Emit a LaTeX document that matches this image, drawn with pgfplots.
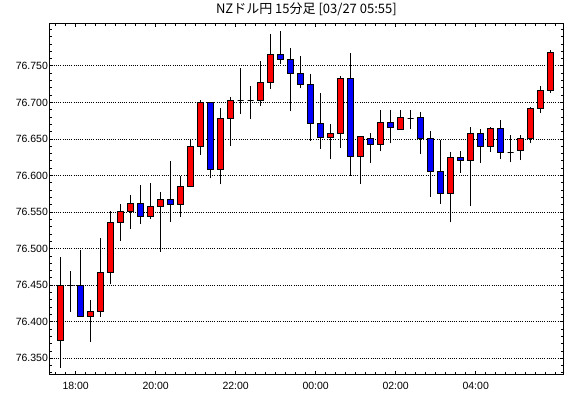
\documentclass[border=0pt]{standalone}
\usepackage{fontspec}
\setmainfont{Liberation Sans}
\newfontfamily\jp{Noto Sans CJK JP}
\usepackage{pgfplots}
\usepackage{pgfplotstable}
\pgfplotsset{compat=1.18}
\pgfplotstableread{
i o h l c
0 76.374 76.488 76.337 76.450
1 76.450 76.469 76.413 76.450
2 76.450 76.498 76.407 76.407
3 76.407 76.429 76.372 76.414
4 76.414 76.514 76.407 76.467
5 76.467 76.551 76.451 76.536
6 76.536 76.561 76.510 76.551
7 76.551 76.573 76.527 76.562
8 76.562 76.587 76.534 76.544
9 76.544 76.590 76.541 76.558
10 76.558 76.577 76.495 76.567
11 76.567 76.620 76.537 76.560
12 76.560 76.599 76.543 76.585
13 76.585 76.650 76.584 76.639
14 76.639 76.703 76.628 76.700
15 76.700 76.700 76.596 76.608
16 76.608 76.693 76.588 76.678
17 76.678 76.707 76.641 76.702
18 76.703 76.747 76.684 76.703
19 76.703 76.722 76.677 76.703
20 76.703 76.756 76.695 76.727
21 76.727 76.794 76.718 76.766
22 76.766 76.798 76.753 76.758
23 76.758 76.774 76.688 76.740
24 76.740 76.763 76.719 76.725
25 76.725 76.739 76.647 76.671
26 76.671 76.713 76.636 76.652
27 76.652 76.671 76.622 76.658
28 76.658 76.736 76.637 76.732
29 76.732 76.767 76.599 76.626
30 76.626 76.654 76.589 76.653
31 76.651 76.658 76.617 76.643
32 76.643 76.689 76.633 76.672
33 76.672 76.690 76.644 76.665
34 76.663 76.689 76.663 76.679
35 76.678 76.689 76.663 76.678
36 76.679 76.687 76.629 76.651
37 76.651 76.661 76.571 76.605
38 76.605 76.648 76.561 76.576
39 76.576 76.632 76.536 76.625
40 76.625 76.634 76.604 76.620
41 76.620 76.667 76.558 76.658
42 76.658 76.663 76.617 76.639
43 76.639 76.667 76.632 76.664
44 76.664 76.676 76.622 76.632
45 76.632 76.655 76.618 76.632
46 76.634 76.656 76.621 76.650
47 76.650 76.694 76.645 76.692
48 76.692 76.722 76.685 76.716
49 76.716 76.771 76.713 76.768
}\candles
\begin{document}
\begin{tikzpicture}
\path[use as bounding box] (0,0) rectangle (570pt,398pt);
\begin{axis}[
  at={(49.3pt,23.3pt)}, anchor=south west,
  scale only axis, width=514.2pt, height=351.4pt,
  xmin=-1.14, xmax=50.28,
  ymin=76.3275, ymax=76.8082,
  axis line style={black, line width=1pt},
  tick pos=both,
  tick align=inside,
  major tick length=4pt, minor tick length=2.5pt,
  every tick/.style={black, line width=0.8pt},
  xtick={1.5,9.5,17.5,25.5,33.5,41.5},
  xticklabels={18:00,20:00,22:00,00:00,02:00,04:00},
  minor xtick={-0.5,0.5,...,49.5},
  ytick={76.35,76.40,...,76.76},
  minor ytick={76.33,76.34,...,76.81},
  ymajorgrids,
  major grid style={black, line width=0.8pt, dash pattern=on 1pt off 1.2pt},
  yticklabel style={/pgf/number format/fixed, /pgf/number format/fixed zerofill, /pgf/number format/precision=3, /pgf/number format/1000 sep={}, /pgf/number format/assume math mode=true},
  yticklabel style={inner sep=0pt, xshift=-1.2pt},
  xticklabel style={inner sep=0pt, yshift=-7.3pt},
  ticklabel style={font=\fontsize{10.5}{12}\selectfont},
  title={\jp NZドル円 15分足 [03/27 05:55]},
  title style={at={(0.5,1)}, anchor=south, inner sep=0pt, yshift=1pt, font=\fontsize{13}{15}\selectfont},
]
\pgfplotsinvokeforeach{0,...,49}{%
  \pgfplotstablegetelem{#1}{o}\of\candles \let\vo\pgfplotsretval
  \pgfplotstablegetelem{#1}{h}\of\candles \let\vh\pgfplotsretval
  \pgfplotstablegetelem{#1}{l}\of\candles \let\vl\pgfplotsretval
  \pgfplotstablegetelem{#1}{c}\of\candles \let\vc\pgfplotsretval
  \pgfmathtruncatemacro\up{\vc>=\vo ? 1 : 0}%
  \ifnum\up=1 \def\fc{red}\else\def\fc{blue}\fi
  \pgfmathsetmacro\xa{#1-0.3}%
  \pgfmathsetmacro\xb{#1+0.3}%
  \edef\temp{%
    \noexpand\addplot[black, line width=1pt, forget plot] coordinates {(#1,\vl) (#1,\vh)};
    \noexpand\addplot[draw=black, fill=\fc, line width=1pt, forget plot] coordinates {(\xa,\vo) (\xb,\vo) (\xb,\vc) (\xa,\vc)} --cycle;
  }\temp
}
\end{axis}
\end{tikzpicture}
\end{document}
